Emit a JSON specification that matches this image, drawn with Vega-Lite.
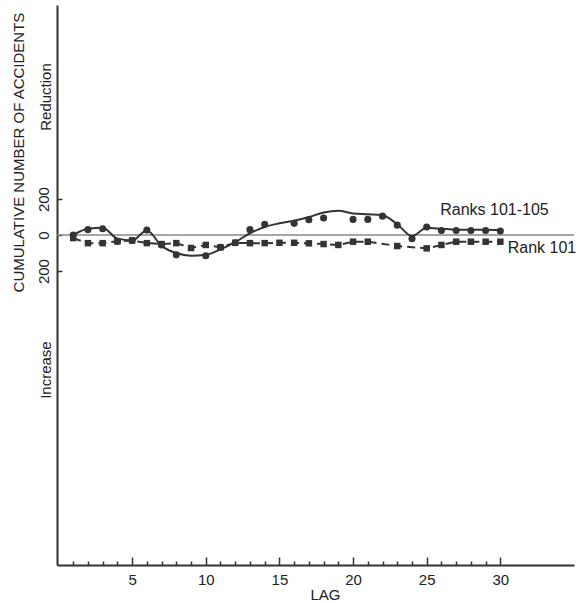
{
  "$schema": "https://vega.github.io/schema/vega-lite/v6.json",
  "autosize": "none",
  "width": 517,
  "height": 560,
  "padding": {"left": 57, "top": 5, "right": 12, "bottom": 38},
  "background": "white",
  "config": {
    "view": {"stroke": null},
    "font": "Liberation Sans",
    "axis": {
      "grid": false,
      "domainColor": "#333",
      "domainWidth": 2,
      "tickColor": "#333",
      "tickWidth": 1.5,
      "labelFont": "Liberation Sans",
      "labelFontSize": 15,
      "labelColor": "#222",
      "titleFont": "Liberation Sans",
      "titleFontSize": 15,
      "titleFontWeight": "normal",
      "titleColor": "#222"
    }
  },
  "datasets": {
    "curve": [
      {"lag": 1, "value": 0}, {"lag": 2, "value": 35}, {"lag": 3, "value": 40}, {"lag": 4, "value": -20},
      {"lag": 5, "value": -30}, {"lag": 6, "value": 25}, {"lag": 7, "value": -60}, {"lag": 8, "value": -100},
      {"lag": 9, "value": -115}, {"lag": 10, "value": -110}, {"lag": 11, "value": -80}, {"lag": 12, "value": -40},
      {"lag": 13, "value": 10}, {"lag": 14, "value": 45}, {"lag": 15, "value": 65}, {"lag": 16, "value": 80},
      {"lag": 17, "value": 100}, {"lag": 18, "value": 125}, {"lag": 19, "value": 135}, {"lag": 20, "value": 120},
      {"lag": 21, "value": 115}, {"lag": 22, "value": 110}, {"lag": 23, "value": 60}, {"lag": 24, "value": -5},
      {"lag": 25, "value": 40}, {"lag": 26, "value": 35}, {"lag": 27, "value": 30}, {"lag": 28, "value": 30},
      {"lag": 29, "value": 30}, {"lag": 30, "value": 28}
    ],
    "circles": [
      {"lag": 1, "value": 0}, {"lag": 2, "value": 30}, {"lag": 3, "value": 35}, {"lag": 4, "value": -35},
      {"lag": 5, "value": -30}, {"lag": 6, "value": 28}, {"lag": 7, "value": -55}, {"lag": 8, "value": -110},
      {"lag": 10, "value": -115}, {"lag": 11, "value": -68}, {"lag": 12, "value": -43}, {"lag": 13, "value": 30},
      {"lag": 14, "value": 60}, {"lag": 16, "value": 65}, {"lag": 17, "value": 85}, {"lag": 18, "value": 95},
      {"lag": 20, "value": 87}, {"lag": 21, "value": 87}, {"lag": 22, "value": 105}, {"lag": 23, "value": 55},
      {"lag": 24, "value": -20}, {"lag": 25, "value": 45}, {"lag": 26, "value": 25}, {"lag": 27, "value": 25},
      {"lag": 28, "value": 25}, {"lag": 29, "value": 25}, {"lag": 30, "value": 22}
    ],
    "squares": [
      {"lag": 1, "value": -17}, {"lag": 2, "value": -45}, {"lag": 3, "value": -45}, {"lag": 4, "value": -35},
      {"lag": 5, "value": -30}, {"lag": 6, "value": -45}, {"lag": 7, "value": -50}, {"lag": 8, "value": -45},
      {"lag": 9, "value": -72}, {"lag": 10, "value": -55}, {"lag": 11, "value": -68}, {"lag": 12, "value": -43},
      {"lag": 13, "value": -45}, {"lag": 14, "value": -45}, {"lag": 15, "value": -43}, {"lag": 16, "value": -43},
      {"lag": 17, "value": -46}, {"lag": 18, "value": -50}, {"lag": 19, "value": -55}, {"lag": 20, "value": -37},
      {"lag": 21, "value": -37}, {"lag": 23, "value": -61}, {"lag": 25, "value": -74}, {"lag": 26, "value": -55},
      {"lag": 27, "value": -37}, {"lag": 28, "value": -37}, {"lag": 29, "value": -37}, {"lag": 30, "value": -37}
    ],
    "labelA": [
      {"lag": 29.6, "value": 139, "text": "Ranks 101-105"}
    ],
    "labelB": [
      {"lag": 30.5, "value": -72, "text": "Rank 101"}
    ],
    "side": [
      {"lag": -0.86, "value": 767, "text": "Reduction"},
      {"lag": -0.86, "value": -750, "text": "Increase"}
    ]
  },
  "encoding": {
    "x": {
      "field": "lag", "type": "quantitative",
      "scale": {"domain": [-0.1, 35], "nice": false, "zero": false},
      "axis": {
        "values": [1,2,3,4,5,6,7,8,9,10,11,12,13,14,15,16,17,18,19,20,21,22,23,24,25,26,27,28,29,30],
        "labelExpr": "datum.value % 5 === 0 ? datum.label : ''",
        "tickSize": {"condition": {"test": "datum.value % 5 === 0", "value": -8}, "value": -4},
        "labelPadding": 15,
        "title": "LAG",
        "titleX": 268,
        "titleY": 29,
        "titleBaseline": "middle"
      }
    },
    "y": {
      "field": "value", "type": "quantitative",
      "scale": {"domain": [-1833, 1278], "nice": false, "zero": false},
      "axis": {
        "values": [-200, 0, 200],
        "labelExpr": "'' + abs(datum.value)",
        "tickSize": -5,
        "labelAngle": 270,
        "labelAlign": "center",
        "labelBaseline": "bottom",
        "labelPadding": 11,
        "title": "CUMULATIVE NUMBER OF ACCIDENTS",
        "titleAngle": 270,
        "titleX": -39,
        "titleY": 147,
        "titleAlign": "center",
        "titleBaseline": "middle"
      }
    }
  },
  "layer": [
    {
      "data": {"values": [{"value": 0}]},
      "mark": {"type": "rule", "color": "#888", "strokeWidth": 1.5},
      "encoding": {"x": null}
    },
    {
      "data": {"name": "curve"},
      "mark": {"type": "line", "interpolate": "monotone", "color": "#333", "strokeWidth": 2}
    },
    {
      "data": {"name": "squares"},
      "mark": {"type": "line", "color": "#333", "strokeWidth": 2, "strokeDash": [8, 5]}
    },
    {
      "data": {"name": "circles"},
      "mark": {"type": "point", "shape": "circle", "filled": true, "color": "#333", "size": 50, "opacity": 1}
    },
    {
      "data": {"name": "squares"},
      "mark": {"type": "point", "shape": "square", "filled": true, "color": "#333", "size": 42, "opacity": 1}
    },
    {
      "data": {"name": "labelA"},
      "mark": {"type": "text", "font": "Liberation Sans", "fontSize": 16, "color": "#222", "align": "center", "baseline": "middle", "clip": false},
      "encoding": {"text": {"field": "text"}}
    },
    {
      "data": {"name": "labelB"},
      "mark": {"type": "text", "font": "Liberation Sans", "fontSize": 16, "color": "#222", "align": "left", "baseline": "middle", "clip": false},
      "encoding": {"text": {"field": "text"}}
    },
    {
      "data": {"name": "side"},
      "mark": {"type": "text", "font": "Liberation Sans", "fontSize": 15, "color": "#222", "angle": 270, "align": "center", "baseline": "middle", "clip": false},
      "encoding": {"text": {"field": "text"}}
    }
  ]
}
